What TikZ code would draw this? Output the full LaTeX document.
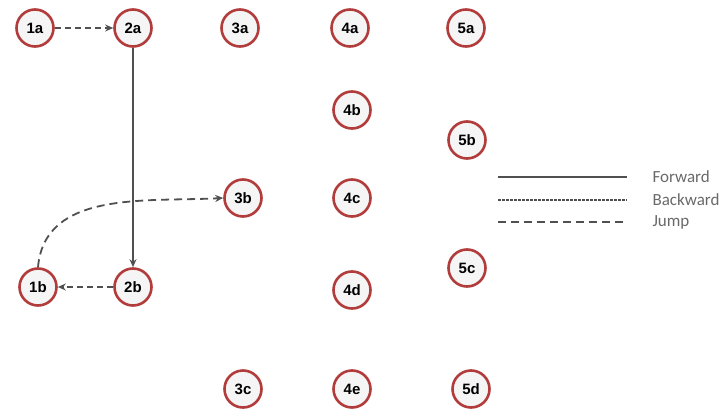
\documentclass[tikz,border=0pt]{standalone}
\usepackage{fontspec}
\setmainfont{Liberation Sans}
\newfontfamily\legendfont{Carlito}
\usetikzlibrary{arrows.meta}

\definecolor{ringred}{RGB}{178,60,60}
\definecolor{linegray}{RGB}{80,80,80}
\definecolor{textgray}{RGB}{105,105,105}

\begin{document}
\begin{tikzpicture}[
			x=1pt, y=-1pt,
			state/.style={
				circle,
				draw=ringred,
				line width=2.6pt,
				fill=gray!8,
				minimum size=37pt,
				inner sep=0pt,
				font=\bfseries\fontsize{15}{15}\selectfont
			},
			forwardline/.style={draw=linegray, line width=1.6pt},
			backwardline/.style={draw=linegray, line width=1.6pt, dash pattern=on 2.5pt off 1.5pt},
			jumpline/.style={draw=linegray, line width=1.8pt, dash pattern=on 8pt off 5pt},
			tip/.style={-{Stealth[length=8pt,width=7pt]}},
			legendtext/.style={anchor=west, text=textgray, font=\legendfont\fontsize{17}{17}\selectfont}
			]

			\useasboundingbox (0,0) rectangle (728,412);

			% Column 1
			\node[state] (1a) at (35,28) {1a};
			\node[state] (1b) at (38,287) {1b};

			% Column 2
			\node[state] (2a) at (133,28) {2a};
			\node[state] (2b) at (133,287) {2b};

			% Column 3
			\node[state] (3a) at (240,28) {3a};
			\node[state] (3b) at (243,198) {3b};
			\node[state] (3c) at (243,389) {3c};

			% Column 4
			\node[state] (4a) at (350,28) {4a};
			\node[state] (4b) at (352,110) {4b};
			\node[state] (4c) at (352,198) {4c};
			\node[state] (4d) at (352,290) {4d};
			\node[state] (4e) at (352,389) {4e};

			% Column 5
			\node[state] (5a) at (466,28) {5a};
			\node[state] (5b) at (467,140) {5b};
			\node[state] (5c) at (467,268) {5c};
			\node[state] (5d) at (471,389) {5d};

			% Transitions
			\draw[jumpline, dash pattern=on 6pt off 4pt, tip] (1a) -- (2a);
			\draw[forwardline, tip] (2a) -- (2b);
			\draw[jumpline, dash pattern=on 6pt off 4pt, tip] (2b) -- (1b);
			\draw[jumpline, tip] (1b.north) to[out=85, in=183] (3b.west);

			% Legend
			\coordinate (fwdA) at (498,177);
			\coordinate (fwdB) at (627,177);
			\coordinate (bwdA) at (498,200);
			\coordinate (bwdB) at (627,200);
			\coordinate (jmpA) at (498,222);
			\coordinate (jmpB) at (627,222);
			\draw[forwardline] (fwdA) -- (fwdB);
			\draw[backwardline] (bwdA) -- (bwdB);
			\draw[jumpline] (jmpA) -- (jmpB);
			\node[legendtext] (fwdText) at (649,177) {Forward};
			\node[legendtext] (bwdText) at (649,200) {Backward};
			\node[legendtext] (jmpText) at (649,222) {Jump};

		\end{tikzpicture}
\end{document}
